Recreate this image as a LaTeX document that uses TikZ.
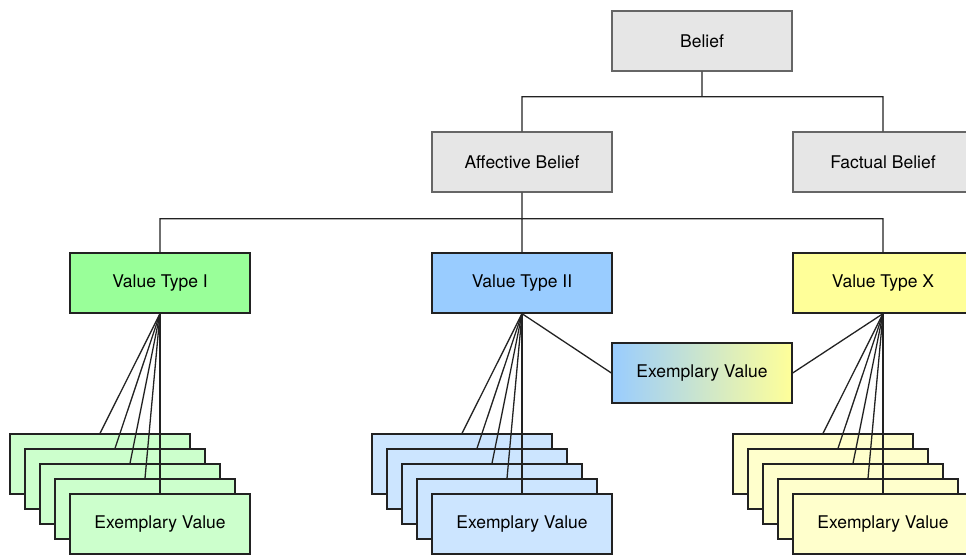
\documentclass[tikz,border=0pt]{standalone}
\usepackage{fontspec}
\setmainfont{TeX Gyre Heros}
\definecolor{beliefgray}{HTML}{E6E6E6}
\definecolor{edgegray}{HTML}{666666}
\definecolor{linedark}{HTML}{222222}
\definecolor{greenI}{HTML}{99FF99}
\definecolor{greenL}{HTML}{CCFFCC}
\definecolor{blueII}{HTML}{99CCFF}
\definecolor{blueL}{HTML}{CCE5FF}
\definecolor{yellowX}{HTML}{FFFF99}
\definecolor{yellowL}{HTML}{FFFFCC}
\tikzset{
  box/.style={rectangle,draw=linedark,line width=1.3pt,minimum width=180pt,minimum height=60pt,
    inner sep=0pt,font=\fontsize{17.5}{20}\selectfont},
  graybox/.style={box,fill=beliefgray,draw=edgegray},
  link/.style={draw=linedark,line width=1.3pt}
}

\begin{document}
\begin{tikzpicture}[x=1pt,y=-1pt]
\useasboundingbox (0,0) rectangle (966,554);
\node [graybox] (b) at (702,41) {Belief};
\node [graybox] (ab) at (522,162) {Affective Belief};
\node [graybox] (fb) at (883,162) {Factual Belief};
\node [box,fill=greenI] (v1) at (160,283) {Value Type I};
\node [box,fill=blueII] (v2) at (522,283) {Value Type II};
\node [box,fill=yellowX] (vx) at (883,283) {Value Type X};
\node [box,left color=blueII,right color=yellowX] (ev) at (702,373) {Exemplary Value};
% stacks of exemplary values
\foreach \g/\x/\c in {v1/160/greenL, v2/522/blueL, vx/883/yellowL} {
	\foreach \k in {1,...,4}
		\node [box,fill=\c] (\g-\k) at ({\x-15*(5-\k)},{524-15*(5-\k)}) {};
	\node [box,fill=\c] (\g-5) at (\x,524) {Exemplary Value};
	\foreach \k in {1,...,5}
		\path[link] (\g.south) -- (\g-\k.north);
}
\path[link] (b.south) -- ++(0,25) -| (ab.north)
(b.south) -- ++(0,25) -| (fb.north)
(ab.south) -- ++(0,26) -| (v1.north)
(ab.south) -- ++(0,26) -| (v2.north)
(ab.south) -- ++(0,26) -| (vx.north)
(v2.south) -- (ev.west)
(vx.south) -- (ev.east);
\end{tikzpicture}
\end{document}
